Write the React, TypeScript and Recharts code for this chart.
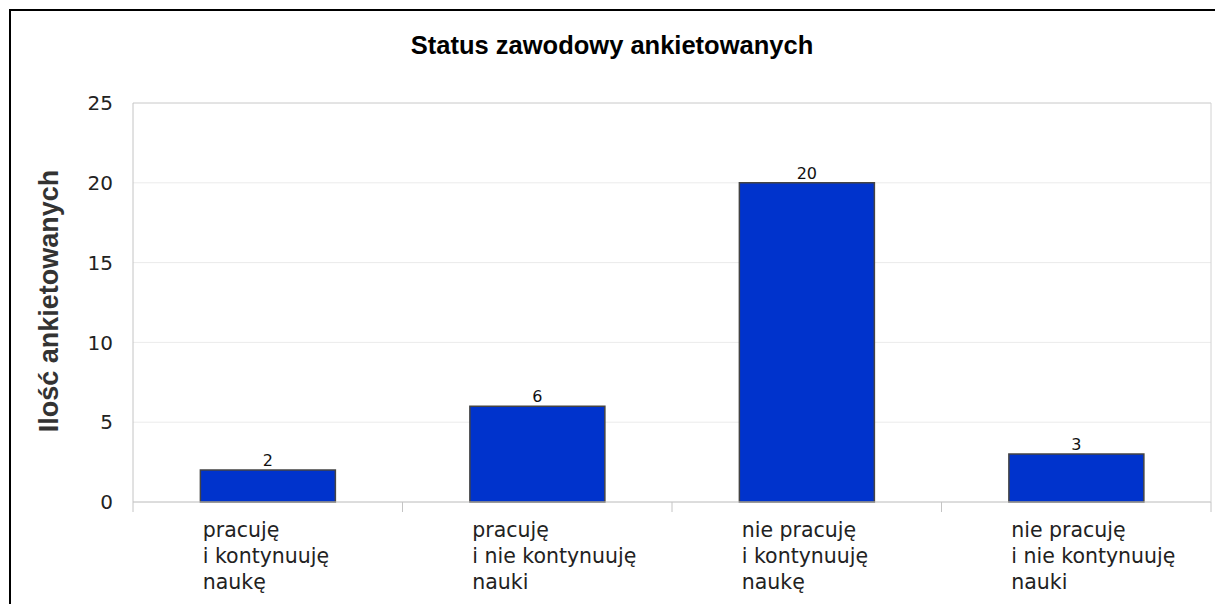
import React from "react";
import {
  BarChart,
  Bar,
  XAxis,
  YAxis,
  CartesianGrid,
  LabelList,
} from "recharts";

const categories = [
  "pracuję\ni kontynuuję\nnaukę",
  "pracuję\ni nie kontynuuję\nnauki",
  "nie pracuję\ni kontynuuję\nnaukę",
  "nie pracuję\ni nie kontynuuję\nnauki",
];
const counts = [2, 6, 20, 3];
const yTicks = [0, 5, 10, 15, 20, 25];

const title = "Status zawodowy ankietowanych";
const yLabel = "Ilość ankietowanych";

const W = 1215;
const H = 604;
const margin = { top: 102, right: 3, bottom: 2, left: 0 };
const Y_AXIS_W = 133;
const X_AXIS_H = 100;
const band = (W - margin.left - Y_AXIS_W - margin.right - 1) / categories.length;

const data = categories.map((c, i) => ({ name: c, value: counts[i] }));

const AXIS = "#c4c4c4";
const TEXT = "#222";

function CategoryTick(props: any) {
  const { x, y, payload, index } = props;
  const lines = String(payload.value).split("\n");
  const left = x - band / 2;
  const right = x + band / 2;
  return (
    <g>
      <line x1={left} y1={y} x2={left} y2={y + 10} stroke={AXIS} />
      {index === categories.length - 1 && (
        <line x1={right} y1={y} x2={right} y2={y + 10} stroke={AXIS} />
      )}
      <text
        x={x - 65}
        y={y + 35}
        fontFamily="DejaVu Sans"
        fontSize={20.5}
        fill={TEXT}
      >
        {lines.map((l, i) => (
          <tspan key={i} x={x - 65} dy={i === 0 ? 0 : 26}>
            {l}
          </tspan>
        ))}
      </text>
    </g>
  );
}

export default function App() {
  return (
    <div
      style={{
        position: "absolute",
        left: 0,
        top: 0,
        width: W,
        height: H,
        background: "#fff",
        overflow: "hidden",
      }}
    >
      <div
        style={{
          position: "absolute",
          left: 9,
          top: 9,
          width: 1300,
          height: 700,
          border: "2px solid #000",
        }}
      />
      <div style={{ position: "absolute", left: 0, top: 0 }}>
        <BarChart
          width={W}
          height={H}
          data={data}
          margin={margin}
          barCategoryGap="25%"
        >
          <CartesianGrid
            vertical={false}
            stroke="#ebebeb"
            strokeWidth={1}
          />
          <XAxis
            dataKey="name"
            height={X_AXIS_H}
            tickSize={0}
            tickMargin={0}
            tickLine={false}
            axisLine={{ stroke: AXIS }}
            stroke={AXIS}
            interval={0}
            tick={<CategoryTick />}
          />
          <XAxis
            xAxisId="top"
            orientation="top"
            dataKey="name"
            height={1}
            tick={false}
            tickLine={false}
            axisLine={{ stroke: "#d2d2d2" }}
            stroke="#d2d2d2"
          />
          <YAxis
            width={Y_AXIS_W}
            domain={[0, 25]}
            ticks={yTicks}
            tickLine={false}
            tickSize={0}
            tickMargin={20}
            axisLine={{ stroke: AXIS }}
            stroke={AXIS}
            tick={{ fontFamily: "DejaVu Sans", fontSize: 20, fill: TEXT }}
          />
          <YAxis
            yAxisId="right"
            orientation="right"
            width={1}
            domain={[0, 25]}
            tick={false}
            tickLine={false}
            axisLine={{ stroke: "#d2d2d2" }}
            stroke="#d2d2d2"
          />
          <Bar
            dataKey="value"
            fill="#0033cc"
            stroke="#444"
            strokeWidth={1.5}
            isAnimationActive={false}
          >
            <LabelList
              dataKey="value"
              position="top"
              offset={4}
              fontFamily="DejaVu Sans"
              fontSize={16}
              fill="#111"
            />
          </Bar>
          <text
            x={612}
            y={54}
            textAnchor="middle"
            fontFamily="Liberation Sans"
            fontWeight="bold"
            fontSize={25.5}
            fill="#000"
          >
            {title}
          </text>
          <text
            x={58}
            y={301}
            textAnchor="middle"
            transform="rotate(-90 58 301)"
            fontFamily="Liberation Sans"
            fontWeight="bold"
            fontSize={27}
            fill="#333"
          >
            {yLabel}
          </text>
        </BarChart>
      </div>
    </div>
  );
}
